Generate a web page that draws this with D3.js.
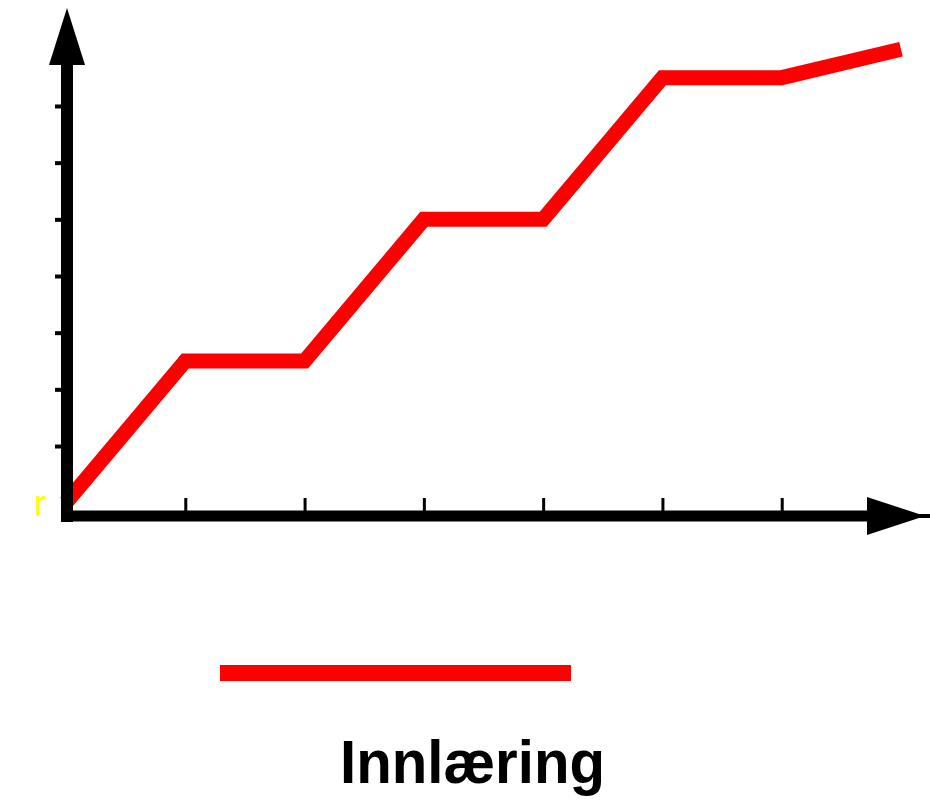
<!DOCTYPE html>
<html>
<head>
<meta charset="utf-8">
<script src="https://cdn.jsdelivr.net/npm/d3@7"></script>
<style>
  html, body { margin: 0; padding: 0; background: #ffffff; }
  svg { display: block; }
</style>
</head>
<body>
<svg id="chart" width="930" height="810"></svg>
<script>
// ---- data ----
const steps = [0, 1, 2, 3, 4, 5, 6, 7];
const learning = [0, 2.5, 2.5, 5, 5, 7.5, 7.5, 8];
const xTicks = [1, 2, 3, 4, 5, 6];
const yTicks = [1, 2, 3, 4, 5, 6, 7];
const seriesName = "Innlæring";
const originMark = "r";

const svg = d3.select("#chart");

// scales
const x = d3.scaleLinear().domain([0, 7]).range([66, 901]);
const y = d3.scaleLinear().domain([0, 8]).range([502.7, 49.3]);

const axisX = 67, axisY = 516;

// red line
const line = d3.line().x((d, i) => x(steps[i])).y(d => y(d));
svg.append("path")
  .datum(learning)
  .attr("d", line)
  .attr("fill", "none")
  .attr("stroke", "#ff0000")
  .attr("stroke-width", 15)
  .attr("stroke-linejoin", "miter")
  .attr("stroke-linecap", "butt");

// x ticks (above axis)
const gx = svg.append("g")
  .attr("transform", `translate(0,${axisY})`)
  .call(d3.axisTop(x).tickValues(xTicks).tickSize(18).tickFormat(""));
gx.select(".domain").remove();
gx.selectAll(".tick line").attr("stroke", "#000").attr("stroke-width", 3);

// y ticks (left of axis)
const gy = svg.append("g")
  .attr("transform", `translate(${axisX},0)`)
  .call(d3.axisLeft(y).tickValues(yTicks).tickSize(12).tickFormat(""));
gy.select(".domain").remove();
gy.selectAll(".tick line").attr("stroke", "#000").attr("stroke-width", 4);

// axis lines
svg.append("line")
  .attr("x1", axisX).attr("x2", axisX)
  .attr("y1", axisY + 6).attr("y2", 60)
  .attr("stroke", "#000").attr("stroke-width", 12);
svg.append("line")
  .attr("x1", axisX - 6).attr("x2", 872)
  .attr("y1", axisY).attr("y2", axisY)
  .attr("stroke", "#000").attr("stroke-width", 11);

// arrow heads
svg.append("path")
  .attr("d", `M${axisX},8 L${axisX + 18},65 L${axisX - 18},65 Z`)
  .attr("fill", "#000");
svg.append("path")
  .attr("d", `M925,${axisY} L867,${axisY - 19} L867,${axisY + 19} Z`)
  .attr("fill", "#000");
svg.append("line")
  .attr("x1", 900).attr("x2", 930)
  .attr("y1", axisY).attr("y2", axisY)
  .attr("stroke", "#000").attr("stroke-width", 4);

// small yellow mark at origin
svg.append("text")
  .attr("x", 34).attr("y", 516)
  .attr("font-family", "Liberation Sans, Arial, sans-serif")
  .attr("font-size", 36)
  .attr("fill", "#ffff00")
  .text(originMark);

// legend
svg.append("line")
  .attr("x1", 220).attr("x2", 571)
  .attr("y1", 673).attr("y2", 673)
  .attr("stroke", "#ff0000").attr("stroke-width", 16);
svg.append("text")
  .attr("x", 340).attr("y", 783)
  .attr("font-family", "Liberation Sans, Arial, sans-serif")
  .attr("font-weight", "bold")
  .attr("font-size", 62)
  .attr("textLength", 265)
  .attr("lengthAdjust", "spacingAndGlyphs")
  .attr("fill", "#000")
  .text(seriesName);
</script>
</body>
</html>
